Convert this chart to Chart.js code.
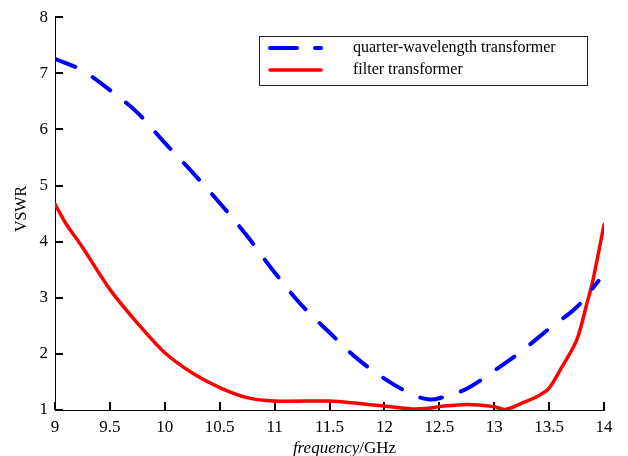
<!DOCTYPE html>
<html>
<head>
<meta charset="utf-8">
<script src="https://cdn.jsdelivr.net/npm/chart.js@4/dist/chart.umd.min.js"></script>
<style>
    html, body { margin: 0; padding: 0; background: #fff; }
    canvas { display: block; }
</style>
</head>
<body>
<canvas id="vswr" width="628" height="456"></canvas>
<script>
// quarter-wavelength transformer
let freqQuarter = [9, 9.25, 9.5, 9.75, 10, 10.25, 10.5, 10.75, 11, 11.25, 11.5, 11.75, 12, 12.25, 12.4, 12.5, 12.75, 13, 13.25, 13.5, 13.75, 13.95];
let vswrQuarter = [7.26, 7.05, 6.7, 6.3, 5.76, 5.24, 4.69, 4.1, 3.45, 2.86, 2.38, 1.92, 1.56, 1.28, 1.19, 1.21, 1.38, 1.7, 2.05, 2.45, 2.83, 3.3];

// filter transformer
let freqFilter = [9, 9.1, 9.25, 9.5, 9.75, 10, 10.25, 10.5, 10.75, 11, 11.5, 11.75, 12, 12.25, 12.4, 12.5, 12.75, 13, 13.1, 13.25, 13.4, 13.5, 13.6, 13.75, 13.85, 13.9, 14];
let vswrFilter = [4.67, 4.32, 3.9, 3.15, 2.55, 2.02, 1.66, 1.4, 1.22, 1.16, 1.16, 1.12, 1.07, 1.02, 1.03, 1.06, 1.1, 1.06, 1.01, 1.12, 1.25, 1.39, 1.71, 2.24, 2.94, 3.32, 4.3];

// tick positions
let xTicks = [9, 9.5, 10, 10.5, 11, 11.5, 12, 12.5, 13, 13.5, 14];
let yTicks = [1, 2, 3, 4, 5, 6, 7, 8];

let seriesNames = ['quarter-wavelength transformer', 'filter transformer'];
let xTitleItalic = 'frequency';
let xTitleRest = '/GHz';
let yTitle = 'VSWR';

const serif = '"Liberation Serif", "Times New Roman", serif';

function pairs(xs, ys) {
    return xs.map((x, i) => ({x: x, y: ys[i]}));
}

// inward tick marks, drawn before the curves
const inTicks = {
    id: 'inTicks',
    beforeDatasetsDraw(chart) {
        const ctx = chart.ctx;
        const xs = chart.scales.x, ys = chart.scales.y;
        const left = xs.left, bottom = ys.bottom;
        ctx.save();
        ctx.fillStyle = '#000';
        for (let i = 0; i < xTicks.length; i++) {
            const px = Math.round(xs.getPixelForValue(xTicks[i]));
            ctx.fillRect(px - 1, bottom - 8, 2, 8);
        }
        for (let i = 0; i < yTicks.length; i++) {
            const py = Math.round(ys.getPixelForValue(yTicks[i]));
            ctx.fillRect(left, py - 1, 8, 2);
        }
        ctx.restore();
    }
};

// axis titles and the boxed legend
const decor = {
    id: 'decor',
    afterDraw(chart) {
        const ctx = chart.ctx;
        const area = chart.chartArea;
        ctx.save();

        // x title, "frequency" in italics
        ctx.fillStyle = '#000';
        ctx.textBaseline = 'middle';
        ctx.font = 'italic 17px ' + serif;
        const w1 = ctx.measureText(xTitleItalic).width;
        ctx.font = '17px ' + serif;
        const w2 = ctx.measureText(xTitleRest).width;
        let tx = (area.left + area.right) / 2 + 15 - (w1 + w2) / 2;
        ctx.textAlign = 'left';
        ctx.font = 'italic 17px ' + serif;
        ctx.fillText(xTitleItalic, tx, 449);
        ctx.font = '17px ' + serif;
        ctx.fillText(xTitleRest, tx + w1, 449);

        // y title
        ctx.save();
        ctx.translate(22, 209);
        ctx.rotate(-Math.PI / 2);
        ctx.textAlign = 'center';
        ctx.font = '16px ' + serif;
        ctx.fillText(yTitle, 0, 0);
        ctx.restore();

        // legend
        const bx = 259.5, by = 36.5, bw = 328, bh = 49;
        ctx.fillStyle = '#fff';
        ctx.fillRect(bx, by, bw, bh);
        ctx.lineWidth = 1;
        ctx.setLineDash([]);
        ctx.strokeStyle = '#222';
        ctx.strokeRect(bx, by, bw, bh);

        ctx.lineCap = 'round';
        ctx.lineWidth = 4;
        ctx.strokeStyle = '#0000ff';
        ctx.beginPath();
        ctx.moveTo(270, 48); ctx.lineTo(297, 48);
        ctx.moveTo(315, 48); ctx.lineTo(321, 48);
        ctx.stroke();
        ctx.lineWidth = 3.5;
        ctx.strokeStyle = '#ff0000';
        ctx.beginPath();
        ctx.moveTo(270, 70); ctx.lineTo(321, 70);
        ctx.stroke();

        ctx.fillStyle = '#000';
        ctx.textAlign = 'left';
        ctx.font = '16px ' + serif;
        ctx.fillText(seriesNames[0], 353, 48);
        ctx.fillText(seriesNames[1], 353, 70);
        ctx.restore();
    }
};

let vswr = document.getElementById('vswr').getContext('2d');
new Chart(vswr, {
    type: 'line',
    data: {
        datasets: [
            {
                label: seriesNames[0],
                data: pairs(freqQuarter, vswrQuarter),
                borderColor: '#0000ff',
                borderWidth: 4,
                borderDash: [22, 20],
                borderCapStyle: 'round',
                pointRadius: 0,
                tension: 0.35,
                fill: false,
            },
            {
                label: seriesNames[1],
                data: pairs(freqFilter, vswrFilter),
                borderColor: '#ff0000',
                borderWidth: 3.5,
                borderCapStyle: 'round',
                pointRadius: 0,
                tension: 0.3,
                fill: false,
            }
        ],
    },
    options: {
        responsive: false,
        animation: false,
        devicePixelRatio: 1,
        layout: {
            padding: {left: 0, right: 24, top: 11, bottom: 0}
        },
        plugins: {
            legend: {display: false},
            tooltip: {enabled: false},
        },
        scales: {
            x: {
                type: 'linear',
                min: 9,
                max: 14,
                afterBuildTicks: function (scale) { scale.ticks = xTicks.map(v => ({value: v})); },
                ticks: {
                    color: '#000',
                    padding: 7,
                    maxRotation: 0,
                    autoSkip: false,
                    font: {family: serif, size: 17},
                    callback: function (value) { return String(value); },
                },
                grid: {display: true, drawOnChartArea: false, drawTicks: false},
                border: {display: true, color: '#000', width: 1},
                afterFit: function (scale) { scale.height = 46; },
            },
            y: {
                min: 1,
                max: 8,
                afterBuildTicks: function (scale) { scale.ticks = yTicks.map(v => ({value: v})); },
                ticks: {
                    color: '#000',
                    padding: 7,
                    font: {family: serif, size: 17},
                },
                grid: {display: true, drawOnChartArea: false, drawTicks: false},
                border: {display: true, color: '#000', width: 1},
                afterFit: function (scale) { scale.width = 55; },
            }
        }
    },
    plugins: [inTicks, decor]
});
</script>
</body>
</html>
